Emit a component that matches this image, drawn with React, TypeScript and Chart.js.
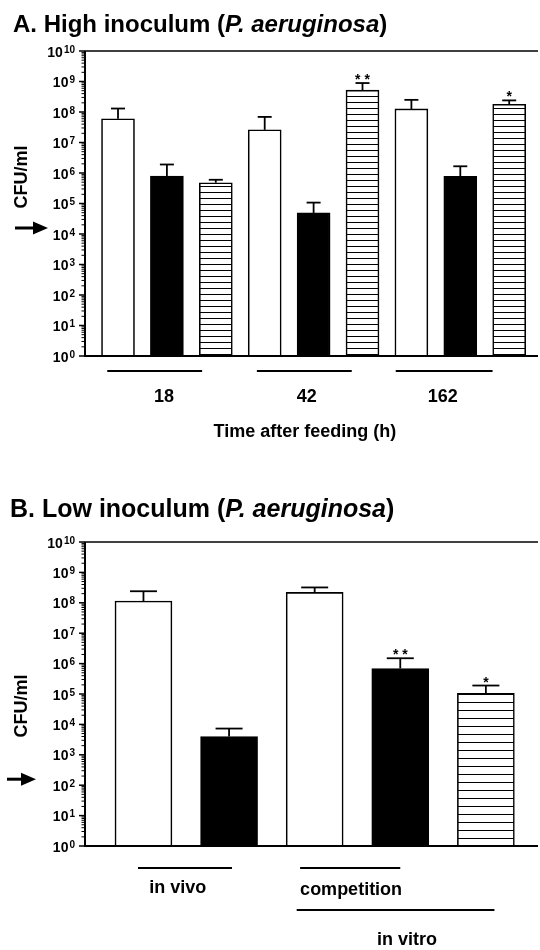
import React, { useEffect, useRef } from 'react';
import { Chart, registerables } from 'chart.js';

Chart.register(...registerables);

// ---------------- DATA ----------------
// Panel A: high inoculum, 3 time points x 3 conditions
const timeLabelsA = ['18', '42', '162'];
const meansA = [6e7, 8e5, 4.8e5, 2.6e7, 4.9e4, 5.2e8, 1.26e8, 7.8e5, 1.8e8];
const upperA = [1.3e8, 1.9e6, 6e5, 6.9e7, 1.07e5, 8.9e8, 2.5e8, 1.66e6, 2.4e8];
const fillA = ['open', 'solid', 'hatch', 'open', 'solid', 'hatch', 'open', 'solid', 'hatch'];
const sigA = ['', '', '', '', '', '**', '', '', '*'];
const thresholdA = 1e4;

// Panel B: low inoculum
const groupLabelsB = ['in vivo', 'competition', 'in vitro'];
const meansB = [1.14e8, 4e3, 2.2e8, 6.9e5, 1.05e5];
const upperB = [2.4e8, 7.3e3, 3.2e8, 1.5e6, 1.9e5];
const fillB = ['open', 'solid', 'open', 'solid', 'hatch'];
const sigB = ['', '', '', '**', '*'];
const thresholdB = 1e2;

// log tick exponents (10^0 .. 10^10)
const tickExponents = [0, 1, 2, 3, 4, 5, 6, 7, 8, 9, 10];

// ---------------- LAYOUT (data-space spans of the brackets under the axis) ----------------
const bracketFromA = [0.78, 3.84, 6.68];
const bracketToA = [2.72, 5.78, 8.66];
const bracketLabelAtA = [1.94, 4.86, 7.64];
const xTitleAtA = 4.82;

const bracketFromB = [0.936, 2.83, 2.79];
const bracketToB = [2.034, 4.0, 5.1];
const bracketLabelAtB = [1.4, 2.83, 4.08];
const bracketAlignB: CanvasTextAlign[] = ['center', 'left', 'center'];
const bracketLineDyB = [22, 22, 64];
const bracketTextDyB = [42, 44, 94];

const FONT = '"Liberation Sans", Arial, Helvetica, sans-serif';

function makeHatch(gap: number) {
  const c = document.createElement('canvas');
  c.width = 4;
  c.height = gap;
  const g = c.getContext('2d')!;
  g.fillStyle = '#fff';
  g.fillRect(0, 0, 4, gap);
  g.fillStyle = '#000';
  g.fillRect(0, 0, 4, 1);
  return g.createPattern(c, 'repeat')!;
}

type Spec = {
  width: number;
  height: number;
  means: number[];
  upper: number[];
  fills: string[];
  sig: string[];
  xMin: number;
  xMax: number;
  barThickness: number;
  capWidth: number;
  hatchGap: number;
  padding: { left: number; top: number; right: number; bottom: number };
  titleX: number;
  titleBaseline: number;
  titleSize: number;
  titleLead: string;
  threshold: number;
  arrow: { x0: number; headX: number; tip: number };
  yTitleCenter: number;
  annotate: (ctx: CanvasRenderingContext2D, chart: any) => void;
};

function line(ctx: CanvasRenderingContext2D, x0: number, y0: number, x1: number, y1: number) {
  ctx.beginPath();
  ctx.moveTo(x0, y0);
  ctx.lineTo(x1, y1);
  ctx.stroke();
}

function buildChart(canvas: HTMLCanvasElement, s: Spec) {
  const hatch = makeHatch(s.hatchGap);
  const colors = s.fills.map((f) => (f === 'solid' ? '#000' : f === 'hatch' ? hatch : '#fff'));

  const decor = {
    id: 'decor',
    afterDatasetsDraw(chart: any) {
      const ctx: CanvasRenderingContext2D = chart.ctx;
      const xs = chart.scales.x;
      const ys = chart.scales.y;
      ctx.save();
      ctx.strokeStyle = '#000';
      ctx.fillStyle = '#000';
      ctx.lineWidth = 1.8;
      s.means.forEach((m, i) => {
        const x = xs.getPixelForValue(i + 1);
        const yTop = ys.getPixelForValue(m);
        const yErr = ys.getPixelForValue(s.upper[i]);
        line(ctx, x, yTop, x, yErr);
        line(ctx, x - s.capWidth / 2, yErr, x + s.capWidth / 2, yErr);
        if (s.sig[i]) {
          ctx.font = `bold 14px ${FONT}`;
          ctx.textAlign = 'center';
          ctx.textBaseline = 'alphabetic';
          ctx.fillText(s.sig[i].split('').join(' '), x, yErr + 1);
        }
      });
      ctx.restore();
    },
    afterDraw(chart: any) {
      const ctx: CanvasRenderingContext2D = chart.ctx;
      const ys = chart.scales.y;
      const { left, right, top, bottom } = chart.chartArea;
      ctx.save();
      ctx.strokeStyle = '#000';
      ctx.fillStyle = '#000';
      // axes and frame
      ctx.lineWidth = 2;
      line(ctx, left, bottom + 1, left, top);
      line(ctx, left - 1, bottom, right, bottom);
      ctx.lineWidth = 1.5;
      line(ctx, left, top, right, top);
      // ticks + labels
      tickExponents.forEach((e) => {
        const y = ys.getPixelForValue(Math.pow(10, e));
        ctx.lineWidth = 1.5;
        line(ctx, left - 6, y, left, y);
        if (e < 10) {
          for (let m = 2; m <= 9; m++) {
            const ym = ys.getPixelForValue(m * Math.pow(10, e));
            ctx.lineWidth = 1;
            line(ctx, left - 3.5, ym, left, ym);
          }
        }
        const exp = String(e);
        ctx.textBaseline = 'alphabetic';
        ctx.textAlign = 'left';
        ctx.font = `bold 10px ${FONT}`;
        const ew = ctx.measureText(exp).width;
        ctx.font = `bold 14px ${FONT}`;
        const bw = ctx.measureText('10').width;
        const rightEdge = left - 10;
        ctx.fillText('10', rightEdge - ew - 1 - bw, y + 5.5);
        ctx.font = `bold 10px ${FONT}`;
        ctx.fillText(exp, rightEdge - ew, y + 1.5);
      });
      // y title
      ctx.save();
      ctx.translate(27, s.yTitleCenter);
      ctx.rotate(-Math.PI / 2);
      ctx.font = `bold 18px ${FONT}`;
      ctx.textAlign = 'center';
      ctx.textBaseline = 'alphabetic';
      ctx.fillText('CFU/ml', 0, 0);
      ctx.restore();
      // arrow
      const ay = ys.getPixelForValue(s.threshold) - 6;
      ctx.lineWidth = 3;
      line(ctx, s.arrow.x0, ay, s.arrow.headX + 2, ay);
      ctx.beginPath();
      ctx.moveTo(s.arrow.headX, ay - 6.5);
      ctx.lineTo(s.arrow.tip, ay);
      ctx.lineTo(s.arrow.headX, ay + 6.5);
      ctx.closePath();
      ctx.fill();
      // title
      ctx.textAlign = 'left';
      ctx.textBaseline = 'alphabetic';
      ctx.font = `bold ${s.titleSize}px ${FONT}`;
      let tx = s.titleX;
      ctx.fillText(s.titleLead, tx, s.titleBaseline);
      tx += ctx.measureText(s.titleLead).width;
      ctx.font = `italic bold ${s.titleSize}px ${FONT}`;
      ctx.fillText('P. aeruginosa', tx, s.titleBaseline);
      tx += ctx.measureText('P. aeruginosa').width;
      ctx.font = `bold ${s.titleSize}px ${FONT}`;
      ctx.fillText(')', tx, s.titleBaseline);
      // panel-specific annotations
      s.annotate(ctx, chart);
      ctx.restore();
    },
  };

  return new Chart(canvas, {
    type: 'bar',
    data: {
      datasets: [
        {
          data: s.means.map((v, i) => ({ x: i + 1, y: v })),
          backgroundColor: colors as any,
          borderColor: '#000',
          borderWidth: 1.6,
          barThickness: s.barThickness,
        },
      ],
    },
    options: {
      responsive: false,
      maintainAspectRatio: false,
      animation: false,
      devicePixelRatio: 1,
      layout: { padding: s.padding },
      plugins: { legend: { display: false }, tooltip: { enabled: false } },
      scales: {
        x: { type: 'linear', display: false, offset: false, min: s.xMin, max: s.xMax },
        y: { type: 'logarithmic', display: false, min: 1, max: 1e10 },
      },
    },
    plugins: [decor],
  } as any);
}

const specA: Spec = {
  width: 540,
  height: 470,
  means: meansA,
  upper: upperA,
  fills: fillA,
  sig: sigA,
  xMin: 0.325,
  xMax: 9.589,
  barThickness: 33,
  capWidth: 14,
  hatchGap: 6,
  padding: { left: 85, top: 51, right: 2, bottom: 114 },
  titleX: 13,
  titleBaseline: 32,
  titleSize: 24,
  titleLead: 'A. High inoculum (',
  threshold: thresholdA,
  arrow: { x0: 15, headX: 33, tip: 48 },
  yTitleCenter: 177,
  annotate(ctx, chart) {
    const xs = chart.scales.x;
    const bottom = chart.chartArea.bottom;
    ctx.lineWidth = 2;
    ctx.font = `bold 18px ${FONT}`;
    ctx.textAlign = 'center';
    ctx.textBaseline = 'middle';
    timeLabelsA.forEach((lab, i) => {
      line(ctx, xs.getPixelForValue(bracketFromA[i]), bottom + 15, xs.getPixelForValue(bracketToA[i]), bottom + 15);
      ctx.fillText(lab, xs.getPixelForValue(bracketLabelAtA[i]), bottom + 41);
    });
    ctx.fillText('Time after feeding (h)', xs.getPixelForValue(xTitleAtA), bottom + 76);
  },
};

const specB: Spec = {
  width: 540,
  height: 480,
  means: meansB,
  upper: upperB,
  fills: fillB,
  sig: sigB,
  xMin: 0.317,
  xMax: 5.609,
  barThickness: 57,
  capWidth: 27,
  hatchGap: 8,
  padding: { left: 85, top: 72, right: 2, bottom: 104 },
  titleX: 10,
  titleBaseline: 47,
  titleSize: 25,
  titleLead: 'B. Low inoculum (',
  threshold: thresholdB,
  arrow: { x0: 7, headX: 21, tip: 36 },
  yTitleCenter: 236,
  annotate(ctx, chart) {
    const xs = chart.scales.x;
    const bottom = chart.chartArea.bottom;
    ctx.lineWidth = 2;
    ctx.font = `bold 18px ${FONT}`;
    ctx.textBaseline = 'middle';
    groupLabelsB.forEach((lab, i) => {
      line(ctx, xs.getPixelForValue(bracketFromB[i]), bottom + bracketLineDyB[i], xs.getPixelForValue(bracketToB[i]), bottom + bracketLineDyB[i]);
      ctx.textAlign = bracketAlignB[i];
      ctx.fillText(lab, xs.getPixelForValue(bracketLabelAtB[i]), bottom + bracketTextDyB[i]);
    });
  },
};

function Panel({ spec }: { spec: Spec }) {
  const ref = useRef<HTMLCanvasElement | null>(null);
  useEffect(() => {
    if (!ref.current) return;
    const chart = buildChart(ref.current, spec);
    return () => chart.destroy();
  }, [spec]);
  return (
    <canvas
      ref={ref}
      width={spec.width}
      height={spec.height}
      style={{ display: 'block', width: spec.width, height: spec.height }}
    />
  );
}

export default function App() {
  return (
    <div style={{ position: 'absolute', left: 0, top: 0, width: 540, height: 950, background: '#fff' }}>
      <Panel spec={specA} />
      <Panel spec={specB} />
    </div>
  );
}
